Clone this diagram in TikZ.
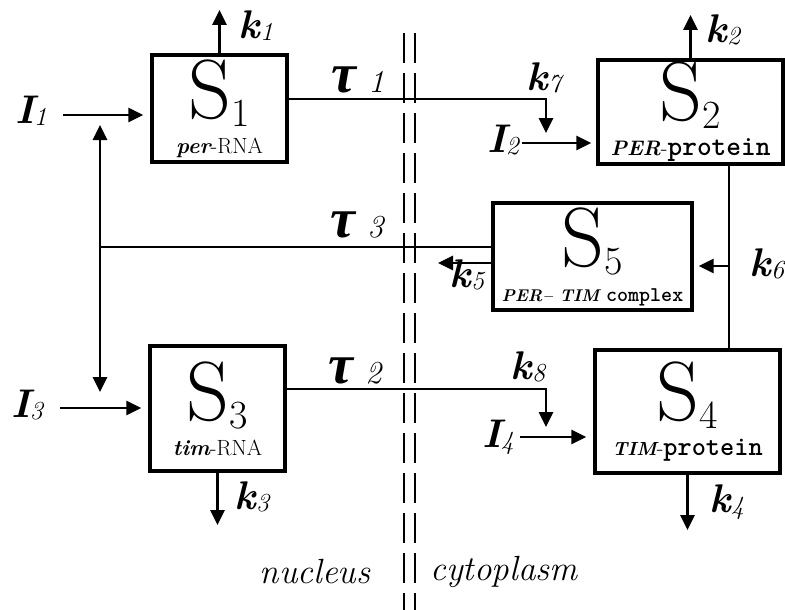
\documentclass[tikz,border=0pt]{standalone}
\usepackage{fontspec}
\newfontfamily\greekfont{Liberation Serif}
\usepackage{tikz}
\usetikzlibrary{arrows.meta,positioning}
\newcommand{\statelbl}[1]{{\fontsize{84}{84}\selectfont S\raisebox{-8pt}{\fontsize{40}{40}\selectfont #1}}}
\newcommand{\ratek}[1]{{\bfseries\itshape k}\raisebox{-2pt}{\fontsize{26}{26}\selectfont\itshape #1}}
\newcommand{\inflow}[1]{{\bfseries\itshape I}\raisebox{-2pt}{\fontsize{26}{26}\selectfont\itshape #1}}
\newcommand{\delaylbl}[1]{{\fontsize{56}{56}\selectfont\greekfont\bfseries\itshape τ}\hspace{12pt}{\fontsize{32}{32}\selectfont\itshape #1}}
\tikzset{
    statebox/.style={draw, line width=3.2pt, inner sep=0pt, align=center,
        font=\fontsize{22}{35}\selectfont},
    flow/.style={line width=2.8pt, -{Triangle[length=15pt,width=14pt]}},
    link/.style={line width=2.8pt},
    lbl/.style={inner sep=0pt, font=\fontsize{40}{40}\selectfont},
    region/.style={inner sep=0pt, font=\fontsize{35}{35}\selectfont\itshape},
    membrane/.style={line width=1.5pt, dash pattern=on 30pt off 10pt}
}

\begin{document}
\begin{tikzpicture}[x=1pt,y=-1pt]
    \useasboundingbox (0,0) rectangle (785,610);

    \node[statebox, minimum width=135pt, minimum height=107pt] (s1) at (219.5,108.5)
        {\statelbl{1}\\{\bfseries\itshape per}-RNA};
    \node[statebox, minimum width=185pt, minimum height=104pt] (s2) at (690.5,112)
        {\statelbl{2}\\{\fontsize{21}{35}\selectfont\bfseries\itshape PER}-{\fontsize{28}{35}\selectfont\ttfamily\bfseries protein}};
    \node[statebox, minimum width=199pt, minimum height=107pt] (s5) at (592.5,256.5)
        {\statelbl{5}\\{\fontsize{17}{35}\selectfont\bfseries\itshape PER-- TIM} {\fontsize{21}{35}\selectfont\ttfamily\bfseries complex}};
    \node[statebox, minimum width=135pt, minimum height=125pt] (s3) at (217.5,408.5)
        {\statelbl{3}\\{\bfseries\itshape tim}-RNA};
    \node[statebox, minimum width=185pt, minimum height=123pt] (s4) at (687.5,411.5)
        {\statelbl{4}\\{\fontsize{19}{35}\selectfont\bfseries\itshape TIM}-{\fontsize{27}{35}\selectfont\ttfamily\bfseries protein}};

    \node[lbl] (k1) at (256,26) {\ratek{1}};
    \node[lbl] (k2) at (723,30) {\ratek{2}};
    \node[lbl] (k3) at (252,497) {\ratek{3}};
    \node[lbl] (k4) at (727,502) {\ratek{4}};
    \node[lbl] (k5) at (467,275) {\ratek{5}};
    \node[lbl] (k6) at (767,264) {\ratek{6}};
    \node[lbl] (k7) at (544,78) {\ratek{7}};
    \node[lbl] (k8) at (528,367) {\ratek{8}};
    \node[lbl] (I1) at (31,111) {\inflow{1}};
    \node[lbl] (I2) at (503,140) {\inflow{2}};
    \node[lbl] (I3) at (27,405) {\inflow{3}};
    \node[lbl] (I4) at (498,437) {\inflow{4}};
    \node[lbl] (tau1) at (358,80) {\delaylbl{1}};
    \node[lbl] (tau2) at (355,371) {\delaylbl{2}};
    \node[lbl] (tau3) at (357,225) {\delaylbl{3}};
    \node[region] (nucleus) at (315,572) {nucleus};
    \node[region] (cytoplasm) at (504,572) {cytoplasm};

    \coordinate (out1) at (219,10);
    \coordinate (out2) at (692,15);
    \coordinate (out3) at (217,525);
    \coordinate (out4) at (687,530);
    \coordinate (out5) at (438,263);
    \coordinate (in1) at (63,115);
    \coordinate (in2) at (522,143);
    \coordinate (in3) at (60,408);
    \coordinate (in4) at (520,437);
    \coordinate (drop1) at (546,133);
    \coordinate (drop2) at (546,427);
    \coordinate (fork) at (100,247);
    \coordinate (fb1) at (100,125);
    \coordinate (fb3) at (100,392);
    \coordinate (tap) at (729,266);

    \draw[membrane] (404,33) -- (404,610);
    \draw[membrane] (415,33) -- (415,610);

    \draw[flow] (s1.north) -- (s1.north |- out1);
    \draw[flow] (s2.north) -- (s2.north |- out2);
    \draw[flow] (s3.south) -- (s3.south |- out3);
    \draw[flow] (s4.south) -- (s4.south |- out4);
    \draw[flow, shorten >=7pt] (in1) -- (in1 -| s1.west);
    \draw[flow, shorten >=5pt] (in2) -- (in2 -| s2.west);
    \draw[flow, shorten >=7pt] (in3) -- (in3 -| s3.west);
    \draw[flow, shorten >=7pt] (in4) -- (in4 -| s4.west);
    \draw[flow] ([yshift=9.5pt]s1.east) -| (drop1);
    \draw[flow] ([yshift=19.5pt]s3.east) -| (drop2);
    \draw[link] ([yshift=9.5pt]s5.west) -- (fork);
    \draw[flow] (fork) -- (fb1);
    \draw[flow] (fork) -- (fb3);
    \draw[flow] ([yshift=-6.5pt]s5.west) -- (out5);
    \draw[link] (s2.south -| tap) -- (s4.north -| tap);
    \draw[flow, shorten >=5pt] (tap) -- (tap -| s5.east);
\end{tikzpicture}
\end{document}
